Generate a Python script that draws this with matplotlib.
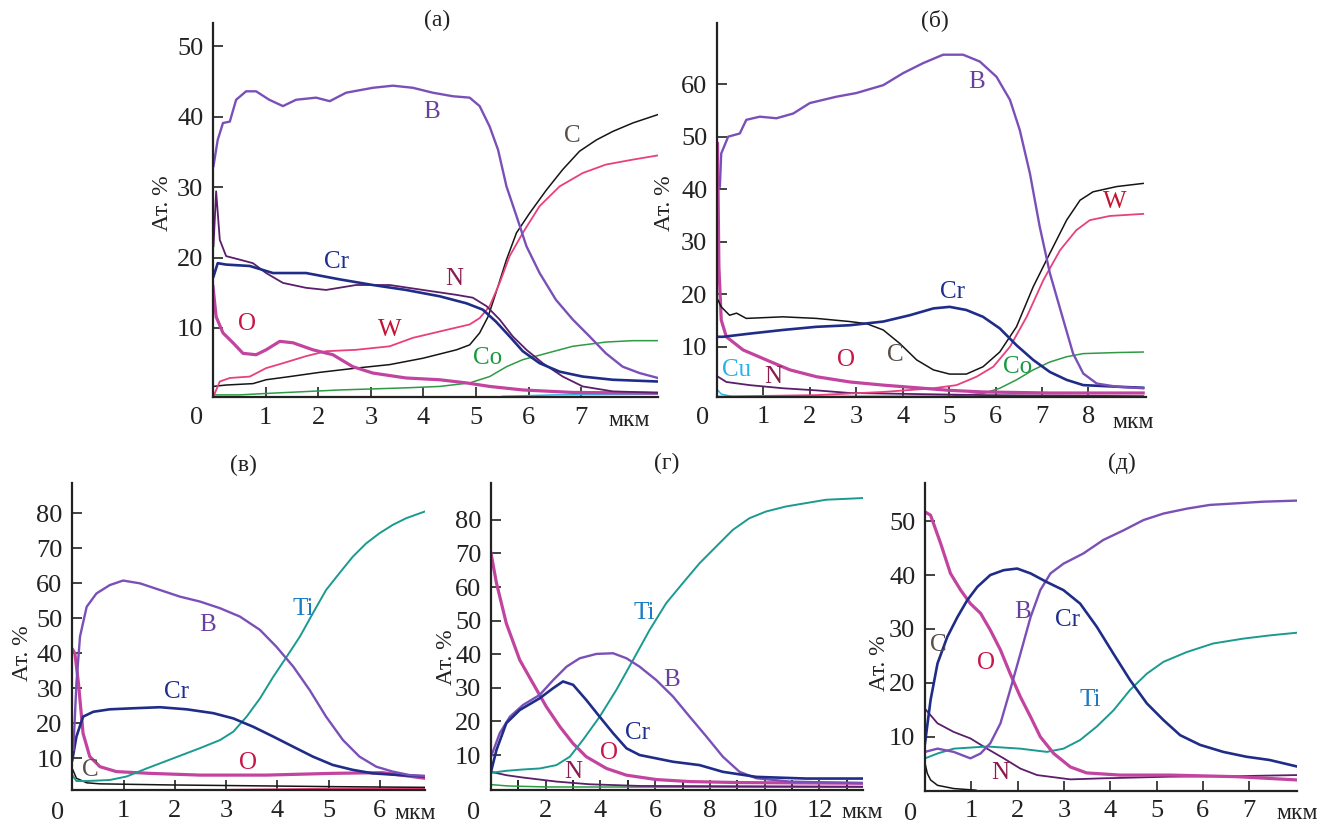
import matplotlib
matplotlib.use("Agg")
import matplotlib.pyplot as plt
from matplotlib.ticker import MultipleLocator

plt.rcParams['font.family'] = ['Liberation Serif', 'DejaVu Serif']

# ---------------- panel (a): depth (мкм) vs at.% ----------------
A_B = [(0.01, 33.0), (0.09, 36.7), (0.19, 39.1), (0.32, 39.3), (0.44, 42.4), (0.63, 43.6),
       (0.82, 43.6), (1.07, 42.4), (1.33, 41.5), (1.58, 42.4), (1.96, 42.7), (2.22, 42.2),
       (2.53, 43.4), (3.04, 44.1), (3.42, 44.4), (3.8, 44.1), (4.18, 43.4), (4.56, 42.9),
       (4.88, 42.7), (5.07, 41.5), (5.26, 38.6), (5.42, 35.3), (5.58, 30.1), (5.77, 25.9),
       (5.96, 21.6), (6.21, 17.8), (6.52, 14.0), (6.84, 11.2), (7.16, 8.8), (7.47, 6.4),
       (7.79, 4.5), (8.11, 3.6), (8.46, 2.9)]
A_C = [(0.0, 1.7), (0.25, 1.9), (0.76, 2.1), (1.01, 2.65), (1.46, 3.1), (2.03, 3.7),
       (2.72, 4.3), (3.36, 4.8), (3.99, 5.7), (4.63, 6.9), (4.88, 7.6), (5.07, 9.3),
       (5.23, 11.6), (5.38, 15.0), (5.58, 19.7), (5.77, 23.5), (6.02, 26.3), (6.34, 29.6),
       (6.65, 32.5), (6.97, 35.1), (7.29, 36.7), (7.6, 37.9), (7.98, 39.1), (8.46, 40.3)]
A_W = [(0.01, 0.3), (0.13, 2.4), (0.32, 2.9), (0.7, 3.1), (1.01, 4.3), (1.33, 5.0),
       (1.77, 6.0), (2.15, 6.7), (2.72, 6.9), (3.36, 7.4), (3.8, 8.6), (4.31, 9.5),
       (4.88, 10.5), (5.07, 11.4), (5.26, 13.1), (5.45, 16.4), (5.64, 20.2), (5.89, 23.5),
       (6.21, 27.3), (6.59, 30.1), (7.03, 32.0), (7.47, 33.2), (7.98, 33.9), (8.46, 34.5)]
A_Cr = [(0.01, 17.3), (0.09, 19.2), (0.25, 19.0), (0.7, 18.8), (1.14, 17.8), (1.77, 17.8),
        (2.41, 16.9), (3.04, 16.1), (3.67, 15.4), (4.31, 14.5), (4.82, 13.5), (5.13, 12.6),
        (5.38, 10.9), (5.64, 8.8), (5.89, 6.7), (6.21, 5.0), (6.59, 3.8), (7.03, 3.1),
        (7.6, 2.65), (8.46, 2.4)]
A_N = [(0.01, 21.6), (0.06, 29.4), (0.13, 22.5), (0.25, 20.2), (0.51, 19.7), (0.76, 19.2),
       (1.01, 17.8), (1.33, 16.4), (1.77, 15.7), (2.15, 15.4), (2.72, 16.1), (3.36, 16.1),
       (3.99, 15.4), (4.63, 14.7), (4.94, 14.3), (5.2, 13.1), (5.45, 11.2), (5.7, 8.8),
       (5.96, 6.9), (6.27, 5.0), (6.65, 3.1), (7.03, 1.7), (7.6, 1.0), (8.46, 0.8)]
A_O = [(0.0, 15.9), (0.06, 11.6), (0.19, 9.3), (0.38, 7.9), (0.57, 6.4), (0.82, 6.2),
       (1.01, 6.9), (1.27, 8.1), (1.52, 7.9), (1.9, 6.9), (2.28, 6.2), (2.66, 4.5),
       (3.04, 3.6), (3.67, 2.9), (4.31, 2.65), (4.82, 2.2), (5.26, 1.7), (5.89, 1.2),
       (6.84, 0.85), (8.46, 0.75)]
A_Co = [(0.0, 0.5), (0.5, 0.5), (1.14, 0.75), (2.41, 1.2), (3.67, 1.5), (4.31, 1.7),
        (4.88, 2.2), (5.26, 3.1), (5.58, 4.5), (5.89, 5.5), (6.34, 6.4), (6.84, 7.4),
        (7.47, 8.0), (7.98, 8.2), (8.46, 8.2)]
A_Cu = [(5.5, 0.3), (6.5, 0.5), (8.46, 0.6)]

# ---------------- panel (б) ----------------
B_B = [(0.06, 40.5), (0.09, 46.8), (0.24, 50.0), (0.49, 50.6), (0.63, 53.2), (0.92, 53.8),
       (1.28, 53.5), (1.64, 54.4), (2.0, 56.4), (2.57, 57.6), (3.0, 58.3), (3.58, 59.8),
       (4.01, 62.1), (4.44, 64.0), (4.87, 65.6), (5.3, 65.6), (5.66, 64.3), (6.02, 61.4),
       (6.31, 57.0), (6.52, 51.3), (6.74, 43.0), (6.95, 32.9), (7.17, 24.0), (7.46, 15.1),
       (7.67, 8.7), (7.89, 4.9), (8.18, 3.0), (8.61, 2.4), (9.18, 2.1)]
B_C = [(0.02, 18.9), (0.09, 17.6), (0.27, 16.0), (0.42, 16.4), (0.63, 15.4), (1.42, 15.7),
       (2.14, 15.4), (2.86, 14.8), (3.22, 14.4), (3.58, 13.2), (3.94, 10.6), (4.3, 7.5),
       (4.66, 5.6), (5.01, 4.8), (5.37, 4.8), (5.73, 6.2), (6.09, 9.0), (6.45, 13.8),
       (6.81, 21.4), (7.17, 27.8), (7.53, 34.1), (7.82, 37.9), (8.1, 39.5), (8.61, 40.5),
       (9.18, 41.1)]
B_W = [(0.02, 0.5), (0.7, 0.6), (2.14, 0.8), (3.58, 1.4), (4.66, 2.1), (5.16, 2.7),
       (5.59, 4.3), (5.95, 6.2), (6.31, 10.0), (6.67, 15.7), (7.03, 22.7), (7.39, 28.4),
       (7.74, 32.2), (8.03, 34.1), (8.46, 34.9), (9.18, 35.3)]
B_Cr = [(0.02, 11.9), (0.13, 11.9), (0.7, 12.5), (1.42, 13.2), (2.14, 13.8), (2.86, 14.1),
        (3.58, 14.8), (4.15, 16.0), (4.66, 17.3), (5.01, 17.6), (5.37, 17.0), (5.73, 15.7),
        (6.09, 13.5), (6.45, 10.3), (6.81, 7.5), (7.17, 5.2), (7.53, 3.7), (7.89, 2.7),
        (8.61, 2.4), (9.18, 2.2)]
B_O = [(0.01, 48.7), (0.04, 25.2), (0.09, 15.1), (0.2, 11.9), (0.56, 9.4), (1.06, 7.5),
       (1.57, 5.6), (2.14, 4.3), (2.86, 3.3), (3.58, 2.7), (4.3, 2.2), (5.01, 1.7),
       (5.73, 1.4), (7.17, 1.2), (9.18, 1.2)]
B_N = [(0.02, 4.3), (0.2, 3.3), (0.7, 2.7), (1.42, 2.1), (2.14, 1.7), (2.86, 1.2),
       (4.3, 1.0), (5.73, 0.8), (9.18, 0.6)]
B_Co = [(0.02, 0.5), (5.01, 0.6), (5.73, 1.1), (6.09, 2.1), (6.45, 3.7), (6.81, 5.6),
        (7.17, 7.1), (7.53, 8.1), (7.89, 8.7), (8.61, 8.9), (9.18, 9.0)]
B_Cu = [(0.02, 1.7), (0.09, 1.0), (0.34, 0.5), (9.18, 0.4)]

# ---------------- panel (в) ----------------
V_B = [(0.02, 12.4), (0.08, 31.4), (0.15, 44.8), (0.28, 53.3), (0.47, 57.1), (0.73, 59.5),
       (0.99, 60.8), (1.32, 60.0), (1.71, 58.1), (2.1, 56.2), (2.49, 54.8), (2.88, 52.9),
       (3.27, 50.5), (3.66, 46.7), (3.98, 41.9), (4.31, 36.2), (4.63, 29.5), (4.95, 21.9),
       (5.28, 15.2), (5.6, 10.5), (5.93, 7.6), (6.25, 6.2), (6.58, 5.2), (6.87, 5.0)]
V_Ti = [(0.0, 5.2), (0.08, 3.5), (0.28, 3.5), (0.73, 3.8), (1.06, 4.8), (1.45, 7.1),
        (1.97, 10.0), (2.49, 12.9), (2.88, 15.2), (3.14, 17.6), (3.4, 21.9), (3.66, 27.1),
        (3.92, 33.3), (4.18, 39.0), (4.44, 44.8), (4.69, 51.4), (4.95, 58.1), (5.21, 62.9),
        (5.47, 67.6), (5.73, 71.4), (5.99, 74.3), (6.25, 76.7), (6.51, 78.6), (6.87, 80.5)]
V_Cr = [(0.0, 9.5), (0.08, 16.2), (0.21, 21.9), (0.41, 23.3), (0.73, 24.0), (1.19, 24.3),
        (1.71, 24.6), (2.23, 24.0), (2.75, 22.9), (3.14, 21.4), (3.53, 19.0), (3.92, 16.2),
        (4.31, 13.3), (4.69, 10.5), (5.08, 8.1), (5.47, 6.7), (5.86, 5.7), (6.38, 5.2),
        (6.87, 4.8)]
V_O = [(0.01, 41.0), (0.05, 40.0), (0.12, 31.4), (0.21, 17.1), (0.34, 10.5), (0.54, 7.6),
       (0.86, 6.2), (1.51, 5.7), (2.49, 5.2), (3.79, 5.2), (5.08, 5.7), (6.05, 5.9),
       (6.87, 4.3)]
V_C = [(0.01, 6.7), (0.08, 4.3), (0.28, 3.0), (0.54, 2.7), (1.84, 2.4), (3.79, 2.1),
       (5.08, 1.9), (6.87, 1.7)]
V_W = [(3.0, 1.0), (5.0, 1.3), (6.87, 1.4)]

# ---------------- panel (г) ----------------
G_Ti = [(0.0, 4.7), (0.56, 5.3), (1.17, 5.7), (1.78, 6.0), (2.39, 7.0), (2.88, 9.5),
        (3.36, 14.5), (3.97, 21.4), (4.58, 29.4), (5.19, 38.3), (5.8, 47.3), (6.4, 55.2),
        (7.01, 61.2), (7.62, 67.1), (8.23, 72.1), (8.83, 77.0), (9.44, 80.5), (10.05, 82.5),
        (10.78, 84.0), (11.51, 85.0), (12.24, 86.0), (13.58, 86.5)]
G_B = [(0.0, 9.5), (0.32, 16.5), (0.69, 21.4), (1.17, 24.9), (1.78, 27.9), (2.27, 32.3),
       (2.76, 36.3), (3.24, 38.8), (3.85, 40.1), (4.46, 40.3), (4.95, 38.8), (5.43, 36.3),
       (6.04, 32.3), (6.65, 27.4), (7.26, 21.4), (7.87, 15.5), (8.47, 9.5), (9.08, 5.0),
       (9.69, 3.1), (10.91, 2.1), (13.58, 1.6)]
G_Cr = [(0.0, 5.0), (0.2, 11.5), (0.56, 19.5), (1.05, 23.4), (1.78, 26.9), (2.27, 29.9),
        (2.63, 31.9), (3.0, 30.9), (3.48, 26.4), (3.97, 21.4), (4.46, 16.5), (4.95, 12.0),
        (5.43, 10.0), (6.04, 9.0), (6.65, 8.0), (7.62, 7.0), (8.47, 5.0), (9.69, 3.5),
        (11.51, 3.0), (13.58, 3.0)]
G_O = [(0.0, 70.1), (0.2, 61.2), (0.56, 49.2), (1.05, 38.3), (1.53, 31.4), (2.02, 24.4),
       (2.51, 18.5), (2.99, 13.5), (3.48, 9.5), (4.22, 6.0), (4.95, 4.0), (6.04, 2.7),
       (7.26, 2.1), (9.08, 1.8), (13.58, 1.6)]
G_N = [(0.0, 5.0), (0.56, 4.0), (1.17, 3.3), (2.39, 2.1), (3.6, 1.3), (5.43, 0.8),
       (13.58, 0.6)]
G_Co = [(0.0, 1.2), (0.6, 0.8), (2.0, 0.5), (13.58, 0.4)]

# ---------------- panel (д) ----------------
D_B = [(0.0, 7.2), (0.27, 7.8), (0.62, 7.2), (0.98, 6.0), (1.2, 6.9), (1.41, 8.8),
       (1.63, 12.5), (1.84, 18.7), (2.06, 25.4), (2.28, 32.2), (2.49, 37.2), (2.71, 40.3),
       (2.99, 42.1), (3.42, 44.0), (3.85, 46.5), (4.29, 48.3), (4.72, 50.2), (5.15, 51.4),
       (5.65, 52.3), (6.15, 53.0), (6.73, 53.3), (7.3, 53.6), (8.03, 53.8)]
D_Cr = [(0.0, 8.8), (0.12, 16.8), (0.27, 23.6), (0.48, 28.5), (0.7, 32.2), (0.91, 35.3),
        (1.13, 37.8), (1.41, 40.0), (1.7, 40.9), (1.99, 41.2), (2.28, 40.3), (2.63, 38.7),
        (2.99, 37.2), (3.35, 34.7), (3.71, 30.4), (4.07, 25.4), (4.43, 20.5), (4.79, 16.2),
        (5.15, 13.1), (5.51, 10.3), (5.94, 8.5), (6.44, 7.2), (6.94, 6.3), (7.44, 5.7),
        (8.03, 4.5)]
D_O = [(0.0, 51.7), (0.12, 51.1), (0.34, 45.8), (0.55, 40.3), (0.77, 37.2), (0.98, 34.7),
       (1.2, 32.9), (1.41, 29.8), (1.63, 26.1), (1.84, 21.7), (2.06, 17.4), (2.28, 13.7),
       (2.49, 10.0), (2.78, 6.9), (3.14, 4.4), (3.49, 3.3), (4.21, 2.9), (5.29, 2.9),
       (6.73, 2.6), (8.03, 2.0)]
D_Ti = [(0.0, 6.0), (0.27, 6.9), (0.62, 7.8), (1.34, 8.2), (2.06, 7.8), (2.63, 7.2),
        (2.99, 7.8), (3.35, 9.4), (3.71, 11.9), (4.07, 14.9), (4.43, 18.7), (4.79, 21.7),
        (5.15, 23.9), (5.65, 25.7), (6.22, 27.3), (6.87, 28.2), (7.44, 28.8), (8.03, 29.3)]
D_N = [(0.0, 15.2), (0.27, 12.5), (0.62, 10.9), (0.98, 9.7), (1.34, 7.8), (1.7, 6.0),
       (2.06, 4.1), (2.42, 2.9), (3.14, 2.1), (3.85, 2.3), (5.29, 2.6), (6.73, 2.7),
       (8.03, 2.9)]
D_C = [(0.0, 5.1), (0.05, 3.2), (0.12, 2.0), (0.27, 1.0), (0.62, 0.4), (1.1, 0.1)]

# line colours / widths per element
LINE = {
    'B': ('#7a50b8', 1.7), 'Cr': ('#1f2d88', 1.9), 'N': ('#5b1e6b', 1.3),
    'O': ('#c2449f', 2.3), 'W': ('#e8407e', 1.3), 'C': ('#151515', 1.1),
    'Co': ('#2e9a45', 1.1), 'Ti': ('#1a9a90', 1.4), 'Cu': ('#35b5e5', 1.1),
}
LABEL = {
    'B': '#6b3fa0', 'Cr': '#1e2f8f', 'N': '#8b1c4f', 'O': '#c8174a', 'W': '#c41230',
    'C': '#5b5048', 'Co': '#1a9a40', 'Ti': '#1a7cc4', 'Cu': '#2ab0e8',
}

panels = [
    dict(rect=[0.1611, 0.5182, 0.3366, 0.4539], xlim=(0, 8.46), ylim=(0.2, 53.3),
         xt=range(1, 8), yt=range(10, 51, 10), minor=None, title='(a)', tpos=(437, 20),
         ylpos=(163, 203), zero=(-0.036, -0.056), unit=(0.935, -0.062),
         series=[('Cu', A_Cu), ('Co', A_Co), ('C', A_C), ('W', A_W), ('O', A_O),
                 ('N', A_N), ('Cr', A_Cr), ('B', A_B)],
         labels=[('B', 4.15, 40.6), ('C', 6.84, 37.2), ('Cr', 2.35, 19.3), ('N', 4.59, 16.9),
                 ('O', 0.64, 10.5), ('W', 3.36, 9.7), ('Co', 5.22, 5.8)]),
    dict(rect=[0.5424, 0.5186, 0.3248, 0.4539], xlim=(0, 9.25), ylim=(0.5, 71.7),
         xt=range(1, 9), yt=range(10, 61, 10), minor=None, title='(б)', tpos=(935, 20),
         ylpos=(665, 203), zero=(-0.033, -0.057), unit=(0.969, -0.068),
         series=[('Cu', B_Cu), ('Co', B_Co), ('N', B_N), ('W', B_W), ('O', B_O),
                 ('C', B_C), ('Cr', B_Cr), ('B', B_B)],
         labels=[('B', 5.6, 60.4), ('W', 8.57, 37.6), ('Cr', 5.08, 20.4), ('C', 3.83, 8.4),
                 ('O', 2.77, 7.5), ('Co', 6.48, 6.1), ('Cu', 0.42, 5.6), ('N', 1.2, 4.2)]),
    dict(rect=[0.0547, 0.0413, 0.2668, 0.3722], xlim=(0, 6.88), ylim=(0.95, 88.6),
         xt=range(1, 7), yt=range(10, 81, 10), minor=None, title='(в)', tpos=(243, 465),
         ylpos=(23, 653), zero=(-0.043, -0.075), unit=(0.972, -0.078),
         series=[('W', V_W), ('C', V_C), ('O', V_O), ('Ti', V_Ti), ('Cr', V_Cr), ('B', V_B)],
         labels=[('B', 2.63, 48.1), ('Ti', 4.5, 52.7), ('Cr', 2.04, 28.9), ('O', 3.42, 8.7),
                 ('C', 0.35, 6.7)]),
    dict(rect=[0.3714, 0.0413, 0.2816, 0.3722], xlim=(0, 13.6), ylim=(-0.4, 90.9),
         xt=range(2, 13, 2), yt=range(10, 81, 10), minor=1, title='(г)', tpos=(667, 463),
         ylpos=(447, 657), zero=(-0.048, -0.075), unit=(0.997, -0.075),
         series=[('Co', G_Co), ('N', G_N), ('O', G_O), ('Ti', G_Ti), ('B', G_B),
                 ('Cr', G_Cr)],
         labels=[('Ti', 5.61, 52.3), ('B', 6.6, 32.3), ('Cr', 5.36, 16.6), ('O', 4.3, 10.6),
                 ('N', 2.99, 4.9)]),
    dict(rect=[0.6997, 0.0404, 0.2816, 0.373], xlim=(0, 8.04), ylim=(0, 57.0),
         xt=range(1, 8), yt=range(10, 51, 10), minor=None, title='(д)', tpos=(1122, 463),
         ylpos=(880, 663), zero=(-0.04, -0.075), unit=(0.999, -0.075),
         series=[('C', D_C), ('N', D_N), ('Ti', D_Ti), ('O', D_O), ('B', D_B),
                 ('Cr', D_Cr)],
         labels=[('B', 2.1, 33.1), ('Cr', 3.08, 31.6), ('C', 0.29, 27.0), ('O', 1.31, 23.7),
                 ('Ti', 3.57, 16.8), ('N', 1.63, 3.3)]),
]

W, H = 1322, 824
fig = plt.figure(figsize=(W / 100, H / 100), dpi=100)

for p in panels:
    ax = fig.add_axes(p['rect'])
    for name, pts in p['series']:
        xs = [q[0] for q in pts]
        ys = [q[1] for q in pts]
        c, lw = LINE[name]
        ax.plot(xs, ys, color=c, lw=lw, solid_joinstyle='round')
    for txt, x, y in p['labels']:
        ax.text(x, y, txt, color=LABEL[txt], fontsize=18, ha='center', va='center')

    ax.set_xlim(*p['xlim'])
    ax.set_ylim(*p['ylim'])
    ax.set_xticks(list(p['xt']))
    ax.set_yticks(list(p['yt']))
    if p['minor']:
        ax.xaxis.set_minor_locator(MultipleLocator(p['minor']))
        ax.tick_params(axis='x', which='minor', direction='in', length=7, width=1.2)
    ax.tick_params(direction='in', length=7, width=1.2, labelsize=19, pad=7,
                   colors='#222222')
    for s in ('top', 'right'):
        ax.spines[s].set_visible(False)
    for s in ('left', 'bottom'):
        ax.spines[s].set_linewidth(1.6)
        ax.spines[s].set_color('#222222')

    ax.text(p['zero'][0], p['zero'][1], '0', transform=ax.transAxes, fontsize=19,
            ha='center', va='center', color='#222222')
    ax.text(p['unit'][0], p['unit'][1], 'мкм', transform=ax.transAxes, fontsize=17,
            ha='center', va='center', color='#222222')
    fig.text(p['tpos'][0] / W, 1 - p['tpos'][1] / H, p['title'], fontsize=17,
             ha='center', va='center', color='#222222')
    fig.text(p['ylpos'][0] / W, 1 - p['ylpos'][1] / H, 'Ат. %', fontsize=17,
             rotation=90, ha='center', va='center', color='#222222')

fig.savefig('out.png', dpi=100)
